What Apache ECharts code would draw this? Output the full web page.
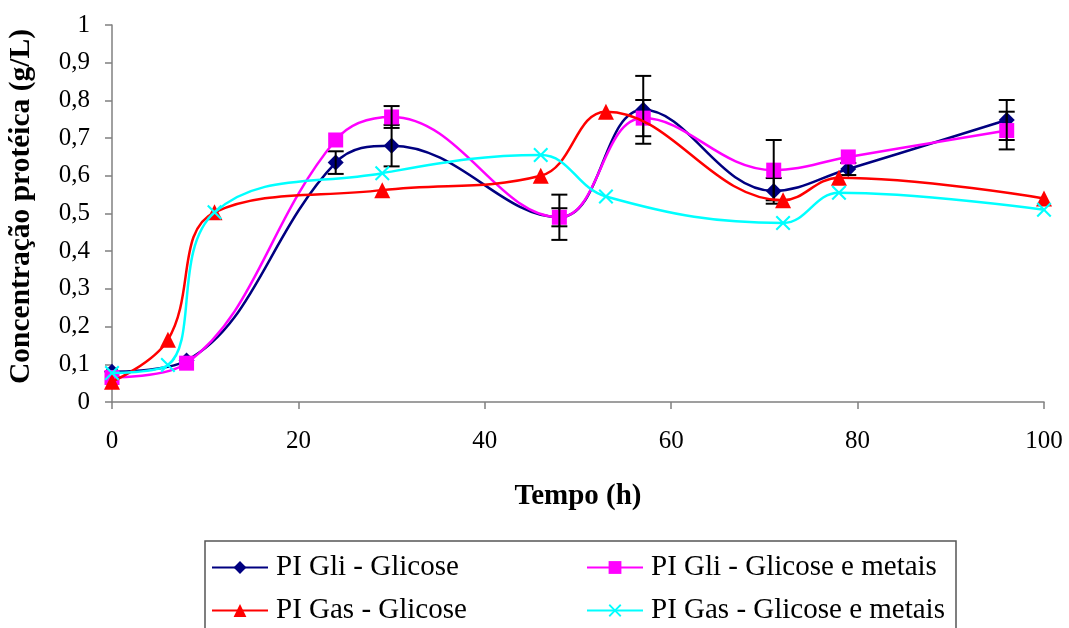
<!DOCTYPE html>
<html>
<head>
<meta charset="utf-8">
<script src="https://cdn.jsdelivr.net/npm/echarts@6/dist/echarts.min.js"></script>
<style>
  html, body { margin: 0; padding: 0; background: #fff; }
  #chart { width: 1069px; height: 628px; }
</style>
</head>
<body>
<div id="chart"></div>
<script>
const chart = echarts.init(document.getElementById('chart'))
const fontFamily = 'Liberation Serif'

// tempos (h) das coletas
const gliTempo = [0, 8, 24, 30, 48, 57, 71, 79, 96]
const gasTempo = [0, 6, 11, 29, 46, 53, 72, 78, 100]

// concentração protéica (g/L)
const gliGlicose = [0.08, 0.11, 0.635, 0.68, 0.49, 0.775, 0.56, 0.618, 0.748]
const gliGlicoseErro = [0, 0, 0.03, 0.055, 0.024, 0.09, 0.034, 0.016, 0.053]
const gliMetais = [0.065, 0.103, 0.695, 0.756, 0.49, 0.753, 0.615, 0.65, 0.72]
const gliMetaisErro = [0, 0, 0, 0.029, 0.06, 0.048, 0.08, 0, 0.05]
const gasGlicose = [0.054, 0.165, 0.503, 0.562, 0.6, 0.77, 0.535, 0.595, 0.54]
const gasMetais = [0.077, 0.098, 0.503, 0.607, 0.655, 0.545, 0.475, 0.555, 0.51]

const nomes = [
  'PI Gli - Glicose',
  'PI Gli - Glicose e metais',
  'PI Gas - Glicose',
  'PI Gas - Glicose e metais',
]

const xTicks = { min: 0, max: 100, interval: 20 }
const yTicks = { min: 0, max: 1, interval: 0.1 }

const xSymbol = 'path://M2,0L10,8L18,0L20,2L12,10L20,18L18,20L10,12L2,20L0,18L8,10L0,2Z'

const pares = (xs, ys) => xs.map((x, i) => [x, ys[i]])
const barras = (xs, ys, es) =>
  xs.map((x, i) => [x, ys[i] - es[i], ys[i] + es[i]]).filter((d, i) => es[i] > 0)

function linha(name, xs, ys, color, symbol, size, z) {
  return {
    name,
    type: 'line',
    data: pares(xs, ys),
    smooth: 0.4,
    symbol,
    symbolSize: size,
    lineStyle: { color, width: 2.5 },
    itemStyle: { color },
    z,
  }
}

function erro(xs, ys, es, z) {
  return {
    type: 'custom',
    data: barras(xs, ys, es),
    encode: { x: 0, y: [1, 2] },
    z,
    silent: true,
    renderItem: (params, api) => {
      const x = api.value(0)
      const top = api.coord([x, api.value(2)])
      const bot = api.coord([x, api.value(1)])
      const w = 8
      const style = { stroke: '#000', lineWidth: 2 }
      return {
        type: 'group',
        children: [
          { type: 'line', shape: { x1: top[0], y1: top[1], x2: bot[0], y2: bot[1] }, style },
          { type: 'line', shape: { x1: top[0] - w, y1: top[1], x2: top[0] + w, y2: top[1] }, style },
          { type: 'line', shape: { x1: bot[0] - w, y1: bot[1], x2: bot[0] + w, y2: bot[1] }, style },
        ],
      }
    },
  }
}

const eixo = { lineStyle: { color: '#808080', width: 1.5 } }
// uma coluna por legenda: a largura estreita força uma entrada por linha
const legendaBase = {
  orient: 'horizontal',
  top: 553,
  width: 120,
  padding: 0,
  itemWidth: 56,
  itemHeight: 16,
  itemGap: 14,
  textStyle: { fontFamily, fontSize: 29, color: '#000', padding: [0, 0, 0, 3] },
  selectedMode: false,
}

const option = {
  animation: false,
  grid: { left: 112, right: 25, top: 25, bottom: 226, outerBoundsMode: 'none' },
  xAxis: {
    type: 'value',
    ...xTicks,
    name: 'Tempo (h)',
    nameLocation: 'middle',
    nameGap: 80,
    nameTextStyle: { fontFamily, fontSize: 29, fontWeight: 'bold', color: '#000' },
    axisLine: eixo,
    axisTick: { show: true, inside: false, length: 7, lineStyle: eixo.lineStyle },
    axisLabel: { fontFamily, fontSize: 25, color: '#000', margin: 27 },
    splitLine: { show: false },
  },
  yAxis: {
    type: 'value',
    ...yTicks,
    name: 'Concentração protéica (g/L)',
    nameLocation: 'middle',
    nameGap: 76,
    nameTextStyle: {
      fontFamily,
      fontSize: 29.5,
      fontWeight: 'bold',
      color: '#000',
      padding: [0, 0, 0, 14],
    },
    axisLine: { show: true, ...eixo },
    axisTick: { show: true, inside: false, length: 7, lineStyle: eixo.lineStyle },
    axisLabel: {
      fontFamily,
      fontSize: 25,
      color: '#000',
      margin: 22,
      formatter: (v) => (v === 0 || v === 1 ? String(v) : v.toFixed(1).replace('.', ',')),
    },
    splitLine: { show: false },
  },
  legend: [
    { ...legendaBase, left: 211, data: [nomes[0], nomes[2]] },
    { ...legendaBase, left: 586, data: [nomes[1], nomes[3]] },
  ],
  graphic: [
    {
      type: 'rect',
      shape: { x: 205, y: 541, width: 751, height: 100 },
      style: { fill: 'none', stroke: '#555', lineWidth: 1.5 },
      z: -1,
    },
  ],
  series: [
    linha(nomes[0], gliTempo, gliGlicose, '#000080', 'diamond', 16, 2),
    erro(gliTempo, gliGlicose, gliGlicoseErro, 3),
    linha(nomes[1], gliTempo, gliMetais, '#ff00ff', 'rect', 15, 4),
    erro(gliTempo, gliMetais, gliMetaisErro, 5),
    linha(nomes[2], gasTempo, gasGlicose, '#ff0000', 'triangle', 16, 6),
    linha(nomes[3], gasTempo, gasMetais, '#00ffff', xSymbol, 15, 7),
  ],
}

chart.setOption(option)
</script>
</body>
</html>
